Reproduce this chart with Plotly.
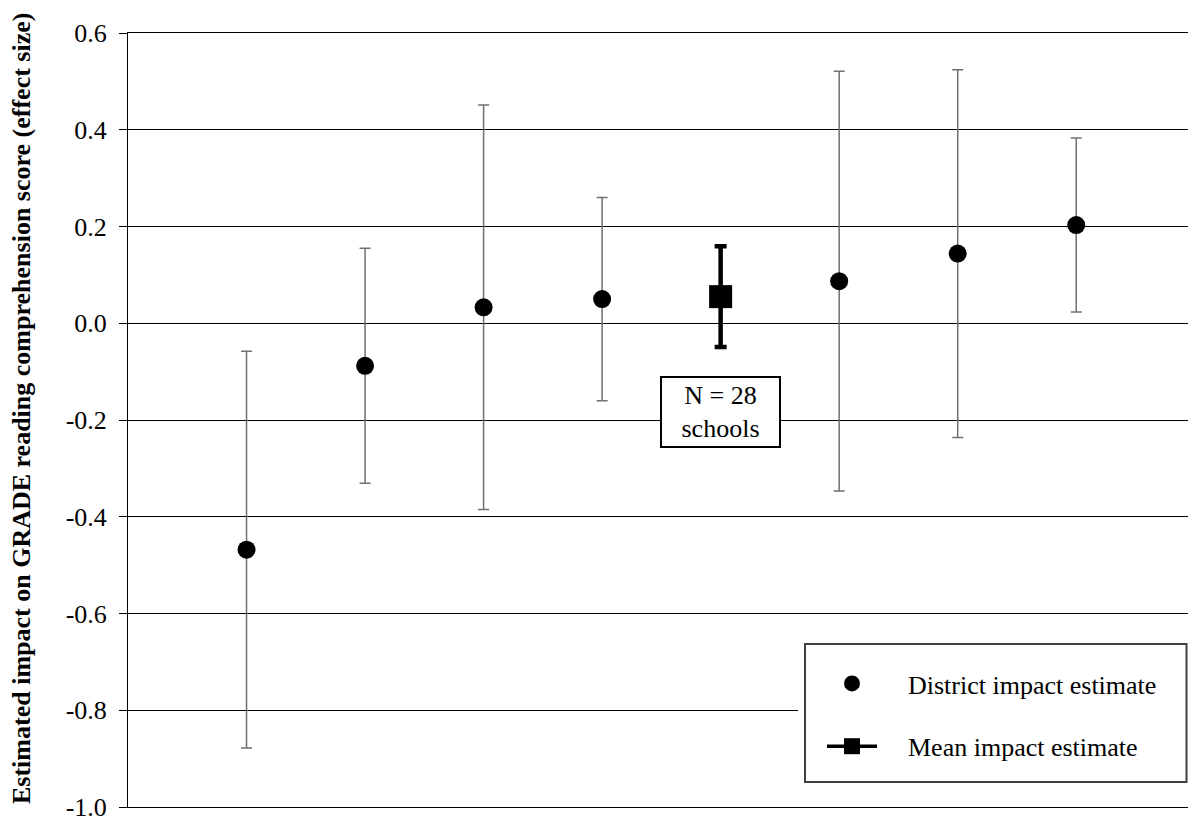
import plotly.graph_objects as go

# ---- data ----
district_pos = [1, 2, 3, 4, 6, 7, 8]
district_est = [-0.468, -0.088, 0.033, 0.050, 0.087, 0.144, 0.203]
district_ci = [0.410, 0.243, 0.418, 0.210, 0.434, 0.380, 0.180]

mean_pos = [5]
mean_est = [0.055]
mean_ci = [0.104]

y_tickvals = [-1.0, -0.8, -0.6, -0.4, -0.2, 0.0, 0.2, 0.4, 0.6]
y_ticktext = ["-1.0", "-0.8", "-0.6", "-0.4", "-0.2", "0.0", "0.2", "0.4", "0.6"]

SERIF = "Liberation Serif"
NBSP = "\u00a0"

fig = go.Figure()

fig.add_trace(go.Scatter(
    x=district_pos, y=district_est, mode="markers",
    name=NBSP * 4 + "District impact estimate",
    legendgroup="d",
    marker=dict(symbol="circle", size=18, color="black"),
    error_y=dict(type="data", array=district_ci, symmetric=True,
                 color="#707070", thickness=1.5, width=5.5),
))

fig.add_trace(go.Scatter(
    x=mean_pos, y=mean_est, mode="lines+markers",
    name=NBSP * 4 + "Mean impact estimate",
    legendgroup="m",
    line=dict(color="black", width=3.5),
    marker=dict(symbol="square", size=23, color="black"),
    error_y=dict(type="data", array=mean_ci, symmetric=True,
                 color="black", thickness=4.5, width=6),
))

W, H = 1188, 823
L, R, T, B = 128, 0, 33, 16
pw, ph = W - L - R, H - T - B

def px_x(p):
    return (p - L) / pw

def px_y(p):
    return (H - B - p) / ph

# legend box
fig.add_shape(type="rect", xref="paper", yref="paper",
              x0=px_x(798), x1=1.0, y0=px_y(788), y1=px_y(638),
              fillcolor="white", line=dict(width=0), layer="above")
fig.add_shape(type="rect", xref="paper", yref="paper",
              x0=px_x(805), x1=px_x(1186.5), y0=px_y(782), y1=px_y(644),
              fillcolor="white", line=dict(color="#404040", width=2), layer="above")

fig.add_annotation(
    x=5, y=-0.183, xref="x", yref="y",
    text="N = 28<br>schools", showarrow=False,
    font=dict(family=SERIF, size=26, color="black"),
    bgcolor="white", bordercolor="black", borderwidth=2,
    width=115, height=66, borderpad=1,
)

fig.add_annotation(
    x=px_x(21), y=px_y(409), xref="paper", yref="paper",
    text="<b>Estimated impact on GRADE reading comprehension score (effect size)</b>",
    textangle=-90, showarrow=False, xanchor="center", yanchor="middle",
    font=dict(family=SERIF, size=26, color="black"),
)

fig.update_layout(
    width=W, height=H,
    margin=dict(l=L, r=R, t=T, b=B, pad=0),
    paper_bgcolor="white", plot_bgcolor="white",
    font=dict(family=SERIF, size=24, color="black"),
    showlegend=True,
    legend=dict(
        x=px_x(822), y=px_y(660), xanchor="left", yanchor="top",
        bgcolor="rgba(0,0,0,0)", borderwidth=0,
        font=dict(family=SERIF, size=26, color="black"),
        itemwidth=50, traceorder="grouped", tracegroupgap=26,
    ),
    xaxis=dict(range=[0, 8.943], showticklabels=False, ticks="",
               showgrid=False, zeroline=False, showline=True, mirror=True,
               linecolor="black", linewidth=1, fixedrange=True),
    yaxis=dict(range=[-1.0, 0.6], tickmode="array",
               tickvals=y_tickvals, ticktext=y_ticktext,
               ticks="outside", ticklen=8, tickcolor="black", tickwidth=1,
               showgrid=True, gridcolor="black", gridwidth=1,
               zeroline=True, zerolinecolor="black", zerolinewidth=1,
               showline=True, linecolor="black", linewidth=1,
               tickfont=dict(family=SERIF, size=26, color="black"),
               fixedrange=True),
)
fig.update_yaxes(ticklabelstandoff=7)

fig.write_html("out.html")
